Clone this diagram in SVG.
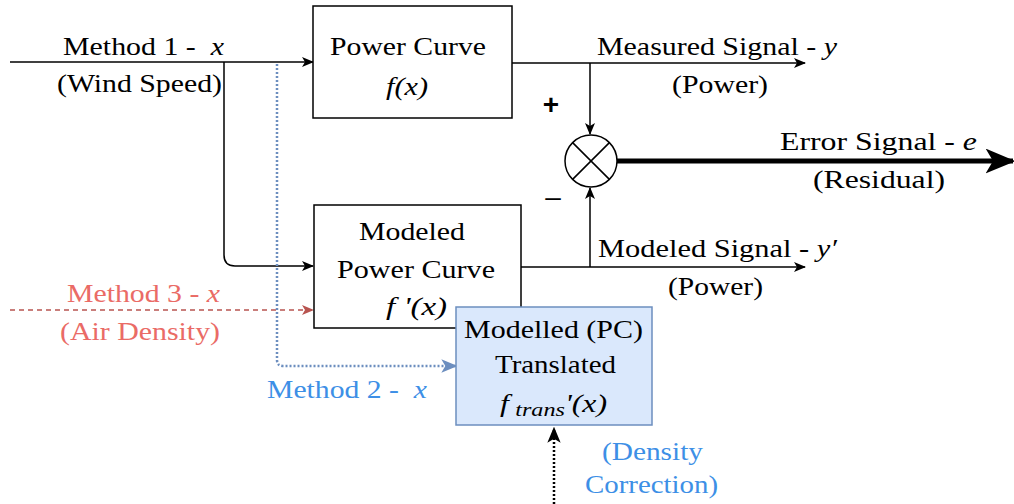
<svg xmlns="http://www.w3.org/2000/svg" width="1014" height="504" viewBox="0 0 1014 504" font-family="Liberation Serif, Times New Roman, serif">
<style>
text{font-size:25px;fill:#000}
.i{font-style:italic}
.red{fill:#ea6b66}
.blue{fill:#3d8fe6}
.box{fill:#fff;stroke:#000;stroke-width:1.5}
.line{fill:none;stroke:#000;stroke-width:1.5}
.plus{font-weight:bold;font-size:28px}
.minus{font-size:28px}
</style>
<defs>
<marker id="ab" viewBox="0 0 12 10" refX="11" refY="5" markerWidth="12" markerHeight="10" markerUnits="userSpaceOnUse" orient="auto"><path d="M0,0 L12,5 L0,10 L3,5 Z" fill="#000"/></marker>
<marker id="ar" viewBox="0 0 12 10" refX="11" refY="5" markerWidth="12" markerHeight="10" markerUnits="userSpaceOnUse" orient="auto"><path d="M0,0 L12,5 L0,10 L3,5 Z" fill="#b85450"/></marker>
<marker id="abl" viewBox="0 0 12 10" refX="11" refY="5" markerWidth="16" markerHeight="14" markerUnits="userSpaceOnUse" orient="auto"><path d="M0,0 L12,5 L0,10 L3,5 Z" fill="#6c8ebf"/></marker>
<marker id="abk" viewBox="0 0 12 10" refX="11" refY="5" markerWidth="16" markerHeight="14" markerUnits="userSpaceOnUse" orient="auto"><path d="M0,0 L12,5 L0,10 L3,5 Z" fill="#000"/></marker>
<marker id="abig" viewBox="0 0 12 10" refX="11" refY="5" markerWidth="30" markerHeight="25" markerUnits="userSpaceOnUse" orient="auto"><path d="M0,0 L12,5 L0,10 L3,5 Z" fill="#000"/></marker>
</defs>

<g id="connectors">
  <path class="line" d="M10,62 H313" marker-end="url(#ab)"/>
  <path class="line" d="M224,62 V255 Q224,266 235,266 H313" marker-end="url(#ab)"/>
  <path d="M10,310 H313" fill="none" stroke="#b85450" stroke-width="1.5" stroke-dasharray="5,4" marker-end="url(#ar)"/>
  <path d="M277,64 V360 Q277,366 283,366 H456" fill="none" stroke="#6c8ebf" stroke-width="2.5" stroke-dasharray="2,2" marker-end="url(#abl)"/>
  <path class="line" d="M512,63 H805" marker-end="url(#ab)"/>
  <path class="line" d="M590,63 V134" marker-end="url(#ab)"/>
  <path class="line" d="M521,267 H805" marker-end="url(#ab)"/>
  <path class="line" d="M590,267 V188" marker-end="url(#ab)"/>
  <path d="M617,161 H1013" fill="none" stroke="#000" stroke-width="5" marker-end="url(#abig)"/>
  <path d="M554,504 V428" fill="none" stroke="#000" stroke-width="2.5" stroke-dasharray="2,2" marker-end="url(#abk)"/>
</g>

<g id="node-power-curve">
  <rect class="box" x="313" y="6" width="199" height="112"/>
  <text x="330" y="55" textLength="156" lengthAdjust="spacingAndGlyphs">Power Curve</text>
  <text x="386" y="95" class="i" textLength="42" lengthAdjust="spacingAndGlyphs">f(x)</text>
</g>

<g id="node-modeled-power-curve">
  <rect class="box" x="314" y="205" width="207" height="123"/>
  <text x="359" y="240" textLength="106" lengthAdjust="spacingAndGlyphs">Modeled</text>
  <text x="337" y="278" textLength="158" lengthAdjust="spacingAndGlyphs">Power Curve</text>
  <text x="386" y="315" class="i" textLength="61" lengthAdjust="spacingAndGlyphs">f '(x)</text>
</g>

<g id="node-translated">
  <rect x="456" y="307" width="196" height="118" fill="#dae8fc" stroke="#6c8ebf" stroke-width="1.5"/>
  <text x="464" y="338" textLength="179" lengthAdjust="spacingAndGlyphs">Modelled (PC)</text>
  <text x="495" y="373" textLength="121" lengthAdjust="spacingAndGlyphs">Translated</text>
  <text x="500" y="412" class="i" textLength="107" lengthAdjust="spacingAndGlyphs"><tspan>f</tspan><tspan font-size="19" dx="5" dy="4">trans</tspan><tspan dy="-4">'(x)</tspan></text>
</g>

<g id="node-sum">
  <circle cx="591" cy="161" r="26" fill="#fff" stroke="#000" stroke-width="1.5"/>
  <path d="M572.6,142.6 L609.4,179.4 M609.4,142.6 L572.6,179.4" stroke="#000" stroke-width="1.5"/>
</g>

<g id="labels">
  <text x="63" y="55" textLength="161" lengthAdjust="spacingAndGlyphs" xml:space="preserve">Method 1 -  <tspan class="i">x</tspan></text>
  <text x="57" y="92" textLength="165" lengthAdjust="spacingAndGlyphs">(Wind Speed)</text>
  <text x="597" y="55" textLength="240" lengthAdjust="spacingAndGlyphs">Measured Signal - <tspan class="i">y</tspan></text>
  <text x="672" y="93" textLength="96" lengthAdjust="spacingAndGlyphs">(Power)</text>
  <text x="551" y="114" class="plus" text-anchor="middle" font-family="Liberation Sans, Arial, sans-serif">+</text>
  <text x="553" y="206" class="minus" text-anchor="middle" font-family="Liberation Sans, Arial, sans-serif">–</text>
  <text x="780" y="150" textLength="197" lengthAdjust="spacingAndGlyphs">Error Signal - <tspan class="i">e</tspan></text>
  <text x="813" y="188" textLength="132" lengthAdjust="spacingAndGlyphs">(Residual)</text>
  <text x="598" y="257" textLength="239" lengthAdjust="spacingAndGlyphs">Modeled Signal - <tspan class="i">y′</tspan></text>
  <text x="668" y="295" textLength="95" lengthAdjust="spacingAndGlyphs">(Power)</text>
  <text x="67" y="302" class="red" textLength="153" lengthAdjust="spacingAndGlyphs">Method 3 - <tspan class="i">x</tspan></text>
  <text x="60" y="340" class="red" textLength="160" lengthAdjust="spacingAndGlyphs">(Air Density)</text>
  <text x="267" y="398" class="blue" textLength="160" lengthAdjust="spacingAndGlyphs" xml:space="preserve">Method 2 -  <tspan class="i">x</tspan></text>
  <text x="602" y="460" class="blue" textLength="101" lengthAdjust="spacingAndGlyphs">(Density</text>
  <text x="585" y="493" class="blue" textLength="133" lengthAdjust="spacingAndGlyphs">Correction)</text>
</g>
</svg>
